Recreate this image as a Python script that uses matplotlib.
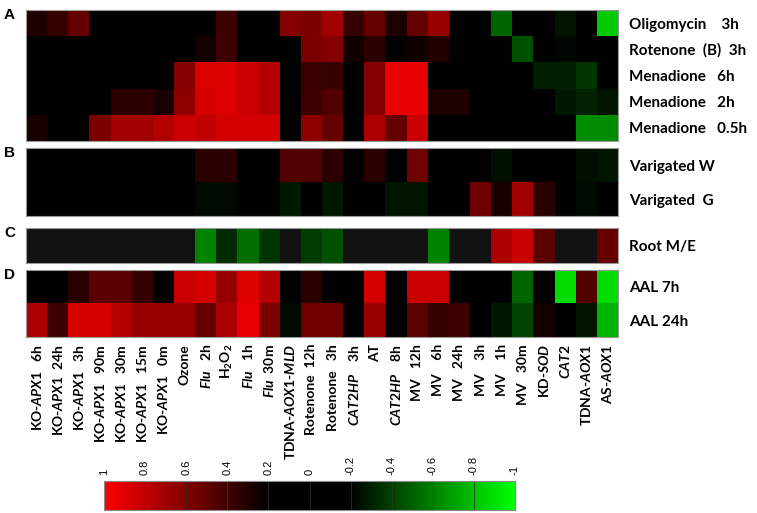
import numpy as np
import matplotlib
matplotlib.use("Agg")
import matplotlib.pyplot as plt
from matplotlib.colors import LinearSegmentedColormap

plt.rcParams['font.family'] = ['Lato', 'DejaVu Sans']
plt.rcParams['mathtext.fontset'] = 'custom'
plt.rcParams['mathtext.rm'] = 'Lato:bold'
plt.rcParams['mathtext.it'] = 'Lato:bold:italic'
plt.rcParams['mathtext.bf'] = 'Lato:bold'

nan = np.nan

# column labels (treatments / lines)
conditions = [
    r"KO-$\mathit{APX1}$   6h", r"KO-$\mathit{APX1}$  24h", r"KO-$\mathit{APX1}$   3h",
    r"KO-$\mathit{APX1}$   90m", r"KO-$\mathit{APX1}$   30m", r"KO-$\mathit{APX1}$   15m",
    r"KO-$\mathit{APX1}$   0m", "Ozone", r"$\mathit{Flu}$   2h", r"H$_2$O$_2$",
    r"$\mathit{Flu}$   1h", r"$\mathit{Flu}$  30m", r"TDNA-$\mathit{AOX1}$-$\mathit{MLD}$",
    "Rotenone  12h", "Rotenone   3h", r"$\mathit{CAT2HP}$    3h", "AT",
    r"$\mathit{CAT2HP}$    8h", "MV   12h", "MV    6h", "MV   24h", "MV    3h",
    "MV    1h", "MV   30m", r"KD-$\mathit{SOD}$", r"$\mathit{CAT2}$",
    r"TDNA-$\mathit{AOX1}$", r"AS-$\mathit{AOX1}$",
]

rows_a = ["Oligomycin    3h", "Rotenone  (B)  3h", "Menadione   6h",
          "Menadione   2h", "Menadione   0.5h"]
rows_b = ["Varigated W", "Varigated  G"]
rows_c = ["Root M/E"]
rows_d = ["AAL 7h", "AAL 24h"]

oligomycin_3h = [0.29, 0.36, 0.51, 0, 0, 0, 0, 0, 0, 0.39, 0, 0, 0.61, 0.58, 0.70, 0.36,
                 0.51, 0.29, 0.51, 0.67, 0, 0, -0.51, 0, 0, -0.26, 0, -0.83]
rotenone_b_3h = [0, 0, 0, 0, 0, 0, 0, 0, 0.26, 0.39, 0, 0, 0, 0.58, 0.61, 0.25,
                 0.33, 0, 0.25, 0.31, 0, 0, 0, -0.45, 0, -0.22, 0, 0]
menadione_6h = [0, 0, 0, 0, 0, 0, 0, 0.61, 0.89, 0.89, 0.83, 0.76, 0, 0.38, 0.36, 0,
                0.61, 0.92, 0.92, 0, 0, 0, 0, 0, -0.30, -0.30, -0.36, 0]
menadione_2h = [0, 0, 0, 0, 0.34, 0.34, 0.28, 0.64, 0.86, 0.89, 0.83, 0.76, 0, 0.39, 0.45, 0,
                0.61, 0.92, 0.92, 0.29, 0.29, 0, 0, 0, 0, -0.28, -0.31, -0.26]
menadione_05h = [0.28, 0, 0, 0.58, 0.70, 0.70, 0.75, 0.83, 0.80, 0.86, 0.86, 0.86, 0, 0.64, 0.51, 0,
                 0.73, 0.51, 0.83, 0, 0, 0, 0, 0, 0, 0, -0.64, -0.64]

varigated_w = [0, 0, 0, 0, 0, 0, 0, 0, 0.33, 0.33, 0, 0, 0.45, 0.45, 0.33, 0,
               0.33, 0, 0.54, 0, 0, 0, -0.25, 0, 0, 0, -0.25, -0.26]
varigated_g = [0, 0, 0, 0, 0, 0, 0, 0, -0.23, -0.23, 0, 0, -0.28, 0, -0.28, 0,
               0, -0.26, -0.26, 0, 0, 0.54, 0.28, 0.70, 0.33, 0, -0.23, 0]

root_me = [nan, nan, nan, nan, nan, nan, nan, nan, -0.61, -0.33, -0.54, -0.36, nan, -0.39, -0.45, nan,
           nan, nan, nan, -0.61, nan, nan, 0.73, 0.83, 0.48, nan, nan, 0.51]

aal_7h = [0, 0, 0.33, 0.48, 0.48, 0.36, 0, 0.83, 0.86, 0.67, 0.89, 0.76, 0, 0.33, 0, 0,
          0.86, 0, 0.83, 0.83, 0, 0, 0, -0.51, 0, -0.89, 0.45, -0.89]
aal_24h = [0.73, 0.39, 0.86, 0.86, 0.76, 0.67, 0.67, 0.67, 0.51, 0.73, 0.92, 0.58, -0.23, 0.54, 0.54, 0,
           0.67, 0, 0.48, 0.36, 0.39, 0, -0.28, -0.42, 0.26, 0, -0.26, -0.76]

cbar_ticks = [1, 0.8, 0.6, 0.4, 0.2, 0, -0.2, -0.4, -0.6, -0.8, -1]

cmap = LinearSegmentedColormap.from_list(
    "gkr", [(0, (0, 1, 0)), (0.4, (0, 0, 0)), (0.6, (0, 0, 0)), (1, (1, 0, 0))])
cmap.set_bad("#121212")

W, H = 757, 513
fig = plt.figure(figsize=(W / 100, H / 100), dpi=100)

def px_axes(x0, y0, x1, y1):
    return fig.add_axes([x0 / W, 1 - y1 / H, (x1 - x0) / W, (y1 - y0) / H])

panels = [
    ("A", (10, 141), [oligomycin_3h, rotenone_b_3h, menadione_6h, menadione_2h, menadione_05h], rows_a),
    ("B", (148, 216), [varigated_w, varigated_g], rows_b),
    ("C", (228, 263), [root_me], rows_c),
    ("D", (270, 337), [aal_7h, aal_24h], rows_d),
]

for letter, (y0, y1), data, labels in panels:
    ax = px_axes(26, y0, 618, y1)
    mat = np.ma.masked_invalid(np.array(data, dtype=float))
    ax.imshow(mat, cmap=cmap, vmin=-1, vmax=1, aspect="auto", interpolation="nearest")
    ax.yaxis.tick_right()
    ax.set_yticks(range(len(labels)))
    ax.set_yticklabels(labels, fontsize=11, fontweight="bold")
    ax.tick_params(axis="y", length=0, pad=8)
    ax.set_xticks([])
    for s in ax.spines.values():
        s.set_color("#999999")
        s.set_linewidth(0.8)
    fig.text(4 / W, 1 - (y0 - 2) / H, letter, fontsize=11, fontweight="bold",
             family="Liberation Sans", va="top", ha="left")
    if letter == "D":
        ax.set_xticks(range(len(conditions)))
        ax.set_xticklabels(conditions, rotation=90, fontsize=10, fontweight="bold")
        ax.tick_params(axis="x", length=0, pad=5)

# colour key
cax = px_axes(104, 481, 515, 510)
grad = np.linspace(1, -1, 400)[None, :]
cax.imshow(grad, cmap=cmap, vmin=-1, vmax=1, aspect="auto", extent=[1, -1, 0, 1])
cax.set_xlim(1, -1)
cax.set_yticks([])
cax.xaxis.tick_top()
cax.set_xticks(cbar_ticks)
cax.set_xticklabels([f"{t:g}" for t in cbar_ticks], rotation=90, fontsize=8,
                    family="Liberation Sans")
cax.tick_params(axis="x", direction="in", length=21, width=0.5, color="#333333", pad=4)
for s in cax.spines.values():
    s.set_color("#888888")
    s.set_linewidth(0.8)

fig.savefig("out.png", dpi=100)
